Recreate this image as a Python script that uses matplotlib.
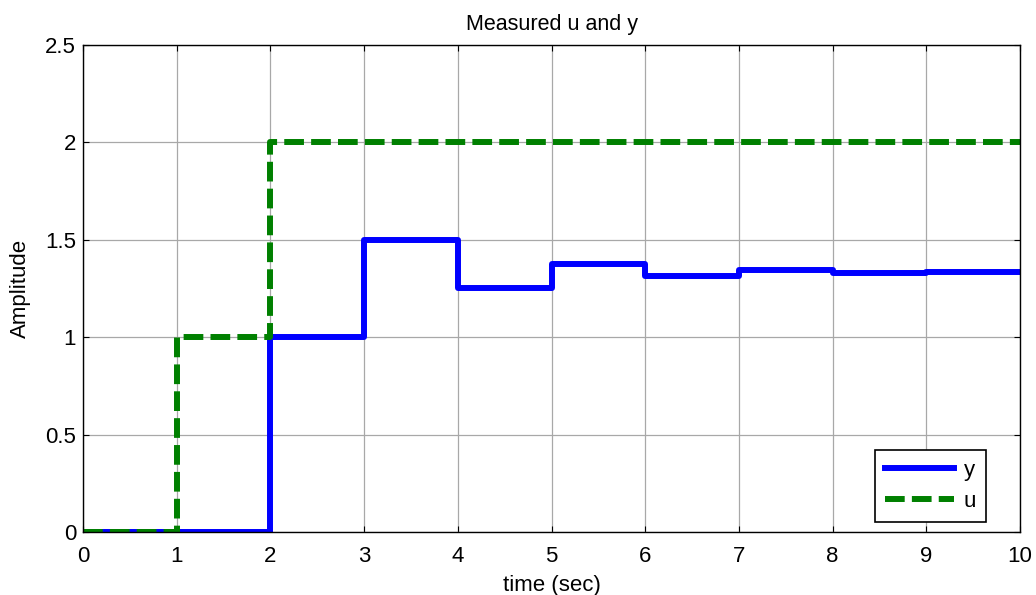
import numpy as np
import matplotlib
matplotlib.use("Agg")
import matplotlib.pyplot as plt

t = [0, 1, 2, 3, 4, 5, 6, 7, 8, 9, 10]
y = [0, 0, 1, 1.5, 1.25, 1.375, 1.3125, 1.34375, 1.328125, 1.3359375, 1.3359375]
u = [0, 1, 2, 2, 2, 2, 2, 2, 2, 2, 2]

plt.rcParams["font.family"] = ["Liberation Sans", "DejaVu Sans"]

fig = plt.figure(figsize=(10.36, 5.95), dpi=100)
ax = fig.add_axes([0.0801, 0.1059, 0.9045, 0.8185])

ax.step(t, y, where="post", color="blue", linewidth=4.3, label="y")
ax.step(t, u, where="post", color="green", linewidth=4.3, linestyle=(0, (3.3, 1.2)), label="u")

ax.set_xlim(0, 10)
ax.set_ylim(0, 2.5)
ax.set_xticks(np.arange(0, 11, 1))
ax.set_yticks(np.arange(0, 2.6, 0.5))
ax.set_yticklabels(["0", "0.5", "1", "1.5", "2", "2.5"])
ax.grid(True, color="#a8a8a8", linewidth=0.9)
ax.tick_params(direction="in", labelsize=16, length=4, top=True, right=True)
ax.tick_params(axis="x", pad=10)
ax.tick_params(axis="y", pad=5)
for s in ax.spines.values():
    s.set_linewidth(1.0)

ax.set_title("Measured u and y", fontsize=15.5, pad=11)
ax.set_xlabel("time (sec)", fontsize=16, labelpad=6)
ax.set_ylabel("Amplitude", fontsize=16, labelpad=10)

leg = ax.legend(loc="lower right", bbox_to_anchor=(0.9637, 0.0205), borderaxespad=0,
                fontsize=16, fancybox=False, framealpha=1, edgecolor="black",
                handlelength=3.1, handletextpad=0.45, borderpad=0.45, labelspacing=0.45)
leg.get_frame().set_linewidth(1.2)

plt.savefig("out.png", dpi=100)
